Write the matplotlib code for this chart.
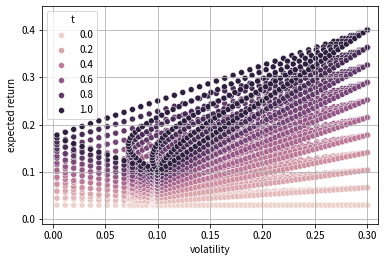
import numpy as np
import pandas as pd
import matplotlib
matplotlib.use("Agg")
import matplotlib.pyplot as plt
import seaborn as sns

plt.rcParams['font.family'] = ['Noto Sans CJK JP', 'DejaVu Sans']

# Parameters
risk_free = 0.03
asset_a_vol, asset_a_ret = 0.30, 0.40
asset_b_vol, asset_b_ret = 0.10, 0.10
rho_values = [-1.0, -0.5, 0.0, 0.5, 1.0]
weights = [0.00, 0.02, 0.04, 0.06, 0.08, 0.10, 0.12, 0.14, 0.16, 0.18,
           0.20, 0.22, 0.24, 0.26, 0.28, 0.30, 0.32, 0.34, 0.36, 0.38,
           0.40, 0.42, 0.44, 0.46, 0.48, 0.50, 0.52, 0.54, 0.56, 0.58,
           0.60, 0.62, 0.64, 0.66, 0.68, 0.70, 0.72, 0.74, 0.76, 0.78,
           0.80, 0.82, 0.84, 0.86, 0.88, 0.90, 0.92, 0.94, 0.96, 0.98, 1.00]
t_values = [0.0, 0.1, 0.2, 0.3, 0.4, 0.5, 0.6, 0.7, 0.8, 0.9, 1.0]

rows = []
for t in t_values:
    for rho in rho_values:
        for w in weights:
            var = (w ** 2 * asset_a_vol ** 2 + (1 - w) ** 2 * asset_b_vol ** 2
                   + 2 * w * (1 - w) * rho * asset_a_vol * asset_b_vol)
            vol = np.sqrt(max(var, 0.0))
            mu = w * asset_a_ret + (1 - w) * asset_b_ret
            rows.append({"volatility": vol,
                         "expected return": risk_free + t * (mu - risk_free),
                         "t": t})
df = pd.DataFrame(rows)

fig, ax = plt.subplots(figsize=(384 / 72, 260 / 72), dpi=72)
sns.scatterplot(data=df, x="volatility", y="expected return", hue="t", ax=ax)
ax.set_xlim(-0.01, 0.31)
ax.set_ylim(-0.01, 0.45)
ax.grid(True)
ax.legend(title="t", loc="upper left")
fig.subplots_adjust(left=0.11, right=0.984, top=0.976, bottom=0.138)
fig.savefig("out.png", dpi=72)
